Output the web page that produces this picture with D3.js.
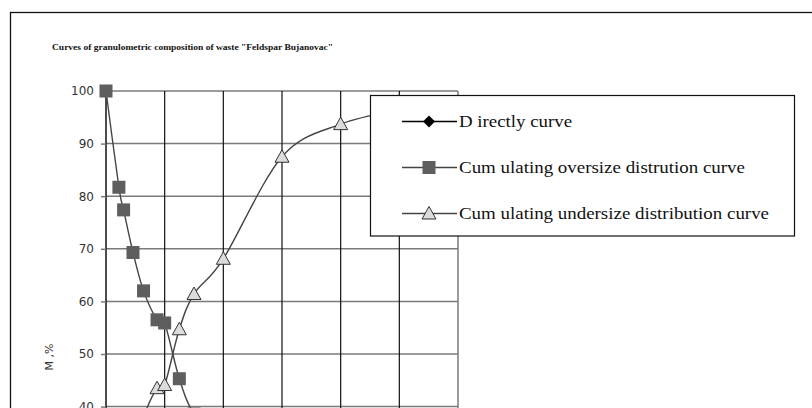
<!DOCTYPE html>
<html>
<style>
    body {
      margin: 0;
      overflow: hidden;
      background: #fff;
    }
    .ytick text {
      font-family: "DejaVu Sans", sans-serif;
      font-size: 12px;
      fill: #333;
    }
</style>
<script src="https://cdn.jsdelivr.net/npm/d3@7"></script>
<svg></svg>
<script>
// grain size (mm) and cumulative percentages
var sizes     = [0, 0.22, 0.3, 0.46, 0.64, 0.87, 1.0, 1.25, 1.5, 2, 3, 4, 5, 6];
var directly  = [0, 18.3, 4.3, 8.1, 7.3, 5.5, 0.6, 10.6, 6.7, 6.7, 19.4, 6.2, 2.6, 1.3];
var oversize  = [100, 81.7, 77.4, 69.3, 62.0, 56.5, 55.9, 45.3, 38.6, 31.9, 12.5, 6.3, 3.7, 2.4];
var undersize = [0, 18.3, 22.6, 30.7, 38.0, 43.5, 44.1, 54.7, 61.4, 68.1, 87.5, 93.7, 96.3, 97.6];

var yTicks = [0, 10, 20, 30, 40, 50, 60, 70, 80, 90, 100];
var xTicks = [0, 1, 2, 3, 4, 5, 6];

var legendNames = ["D irectly curve",
                   "Cum ulating oversize distrution curve",
                   "Cum ulating undersize distribution curve"];

var width = 812,
    height = 408;

var svg = d3.select("svg")
    .attr("width", width)
    .attr("height", height);

// outer frame runs off the right and bottom of the picture
svg.append("rect")
    .attr("x", 10.5)
    .attr("y", 12.5)
    .attr("width", 1000)
    .attr("height", 1000)
    .style("fill", "none")
    .style("stroke", "#111")
    .style("stroke-width", 1.3);

svg.append("text")
    .attr("x", 52)
    .attr("y", 50)
    .attr("textLength", 281)
    .attr("lengthAdjust", "spacingAndGlyphs")
    .style("font-family", "Liberation Serif, serif")
    .style("font-weight", "bold")
    .style("font-size", "9px")
    .style("fill", "#111")
    .text('Curves of granulometric composition of waste "Feldspar Bujanovac"');

var x = d3.scaleLinear().domain([0, 6]).range([106, 458]),
    y = d3.scaleLinear().domain([0, 100]).range([617, 91]);

var plot = svg.append("g");

// horizontal grid (grey)
plot.selectAll(".hgrid")
    .data(yTicks)
  .enter().append("line")
    .attr("class", "hgrid")
    .attr("x1", x(0))
    .attr("x2", x(6))
    .attr("y1", function(d) {return y(d)})
    .attr("y2", function(d) {return y(d)})
    .style("stroke", "#7a7a7a")
    .style("stroke-width", 1.5);

// vertical grid (black)
plot.selectAll(".vgrid")
    .data(xTicks.slice(0, -1))
  .enter().append("line")
    .attr("class", "vgrid")
    .attr("x1", function(d) {return x(d)})
    .attr("x2", function(d) {return x(d)})
    .attr("y1", y(100))
    .attr("y2", y(0))
    .style("stroke", "#111")
    .style("stroke-width", function(d) {return d === 0 ? 1.5 : 1.2});

plot.append("line")
    .attr("x1", x(6))
    .attr("x2", x(6))
    .attr("y1", y(100))
    .attr("y2", y(0))
    .style("stroke", "#7a7a7a")
    .style("stroke-width", 1.5);

var yAxis = plot.append("g")
    .attr("class", "ytick")
    .attr("transform", "translate(" + x(0) + ",0)")
    .call(d3.axisLeft(y).tickValues(yTicks).tickSize(5).tickPadding(7));

yAxis.select(".domain").remove();
yAxis.selectAll(".tick line")
    .style("stroke", "#7a7a7a")
    .style("stroke-width", 1.5);

svg.append("text")
    .attr("transform", "translate(53,357) rotate(-90)")
    .attr("text-anchor", "middle")
    .style("font-family", "DejaVu Sans, sans-serif")
    .style("font-size", "11px")
    .style("fill", "#333")
    .text("M ,%");

var line = d3.line()
    .curve(d3.curveCardinal.tension(0))
    .x(function(d) {return x(d[0])})
    .y(function(d) {return y(d[1])});

function pairs(values) {
  return sizes.map(function(s, i) {return [s, values[i]]});
}

var series = [
  {name: legendNames[0], values: pairs(directly), stroke: "#000", marker: "diamond", fill: "#000"},
  {name: legendNames[1], values: pairs(oversize), stroke: "#444", marker: "square", fill: "#5e5e5e"},
  {name: legendNames[2], values: pairs(undersize), stroke: "#444", marker: "triangle", fill: "#dcdcdc"}
];

function marker(sel, s) {
  if (s.marker === "diamond") {
    sel.append("path")
        .attr("d", "M0,-6L6,0L0,6L-6,0Z")
        .style("fill", s.fill);
  } else if (s.marker === "square") {
    sel.append("rect")
        .attr("x", -6.5)
        .attr("y", -6.5)
        .attr("width", 13)
        .attr("height", 13)
        .style("fill", s.fill);
  } else {
    sel.append("path")
        .attr("d", "M0,-7L7,5.5L-7,5.5Z")
        .style("fill", s.fill)
        .style("stroke", "#333")
        .style("stroke-width", 1);
  }
}

var marks = svg.append("g");

series.forEach(function(s) {
  marks.append("path")
      .datum(s.values)
      .attr("d", line)
      .style("fill", "none")
      .style("stroke", s.stroke)
      .style("stroke-width", 1.4);

  marks.selectAll(null)
      .data(s.values)
    .enter().append("g")
      .attr("transform", function(d) {return "translate(" + x(d[0]) + "," + y(d[1]) + ")"})
      .each(function() {marker(d3.select(this), s)});
});

// legend
var legend = svg.append("g");

legend.append("rect")
    .attr("x", 370.5)
    .attr("y", 95.5)
    .attr("width", 424)
    .attr("height", 140.5)
    .style("fill", "#fff")
    .style("stroke", "#111")
    .style("stroke-width", 1.2);

var rowY = [121.5, 167.5, 213.5],
    textLen = [113, 286, 310];

series.forEach(function(s, i) {
  var row = legend.append("g")
      .attr("transform", "translate(0," + rowY[i] + ")");

  row.append("line")
      .attr("x1", 402)
      .attr("x2", 457)
      .style("stroke", s.stroke)
      .style("stroke-width", 1.4);

  marker(row.append("g").attr("transform", "translate(429,0)"), s);

  row.append("text")
      .attr("x", 459)
      .attr("y", 5)
      .attr("textLength", textLen[i])
      .attr("lengthAdjust", "spacingAndGlyphs")
      .style("font-family", "Liberation Serif, serif")
      .style("font-size", "16px")
      .style("fill", "#111")
      .text(s.name);
});
</script>
</html>
